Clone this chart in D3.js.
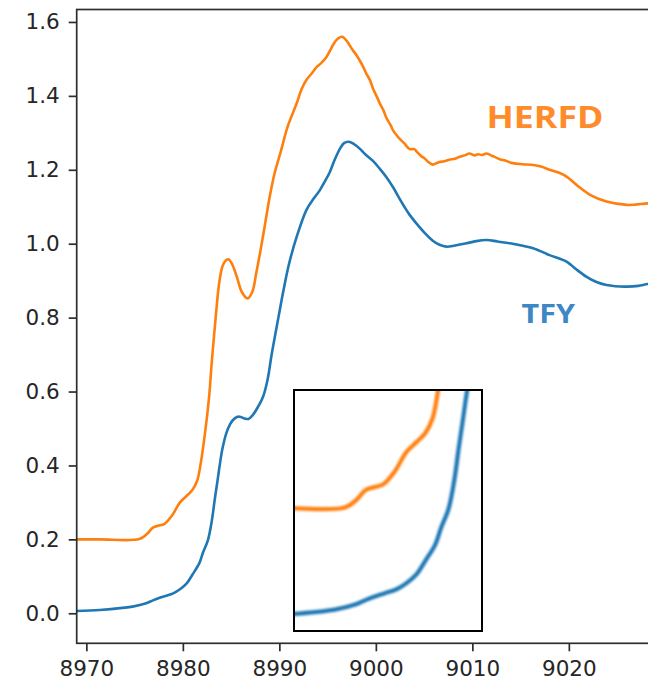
<!DOCTYPE html>
<html>
<head>
<meta charset="utf-8">
<script src="https://cdn.jsdelivr.net/npm/d3@7"></script>
<style>
  html, body { margin: 0; padding: 0; background: #fff; }
  svg { display: block; }
</style>
</head>
<body>
<svg id="chart" width="648" height="685"></svg>
<script>
// Fe K-edge spectra: energy (eV) and normalised intensity
const herfdEnergy = [8969.0, 8971.4, 8975.5, 8976.3, 8976.9, 8977.6, 8978.1, 8978.9, 8979.7, 8980.4,
  8981.0, 8981.5, 8981.8, 8982.3, 8982.7, 8983.0, 8983.4, 8983.8, 8984.2, 8984.7,
  8985.1, 8985.6, 8986.1, 8986.7, 8987.2, 8987.6, 8988.0, 8988.5, 8989.0, 8989.5,
  8990.1, 8990.9, 8991.8, 8992.3, 8992.8, 8993.4, 8993.9, 8994.3, 8994.9, 8995.4,
  8995.9, 8996.5, 8997.0, 8997.6, 8998.0, 8998.3, 8998.7, 8999.0, 8999.4, 8999.7,
  9000.1, 9000.4, 9000.8, 9001.1, 9001.5, 9001.8, 9002.2, 9002.5, 9003.0, 9003.5,
  9004.0, 9004.2, 9004.7, 9005.0, 9005.4, 9005.9, 9006.3, 9006.6, 9007.1, 9007.6,
  9008.2, 9008.7, 9009.2, 9009.7, 9010.2, 9010.6, 9011.0, 9011.5, 9012.0, 9012.3,
  9012.9, 9013.4, 9014.2, 9015.2, 9016.3, 9017.2, 9018.0, 9019.0, 9019.8, 9020.9,
  9022.2, 9023.9, 9026.0, 9028.2, 9030.0];
const herfdValue = [0.200, 0.200, 0.201, 0.215, 0.232, 0.238, 0.242, 0.265, 0.300, 0.318,
  0.334, 0.360, 0.397, 0.488, 0.580, 0.680, 0.800, 0.900, 0.945, 0.958,
  0.945, 0.910, 0.870, 0.852, 0.870, 0.920, 0.975, 1.050, 1.127, 1.190,
  1.245, 1.320, 1.380, 1.418, 1.443, 1.462, 1.479, 1.488, 1.506, 1.530,
  1.551, 1.560, 1.548, 1.524, 1.510, 1.497, 1.478, 1.461, 1.442, 1.420,
  1.398, 1.380, 1.360, 1.340, 1.322, 1.306, 1.292, 1.283, 1.270, 1.256,
  1.256, 1.250, 1.237, 1.232, 1.222, 1.214, 1.218, 1.221, 1.223, 1.227,
  1.230, 1.235, 1.239, 1.244, 1.239, 1.242, 1.240, 1.244, 1.238, 1.235,
  1.228, 1.225, 1.218, 1.215, 1.213, 1.208, 1.200, 1.192, 1.181, 1.157,
  1.132, 1.114, 1.105, 1.109, 1.112];

const tfyEnergy = [8969.0, 8971.4, 8974.8, 8976.2, 8976.9, 8977.6, 8978.2, 8979.0, 8979.7, 8980.4,
  8981.0, 8981.7, 8982.1, 8982.6, 8983.0, 8983.3, 8983.6, 8983.8, 8984.1, 8984.5,
  8984.9, 8985.2, 8985.6, 8985.9, 8986.3, 8986.8, 8987.2, 8987.6, 8988.3, 8988.8,
  8989.2, 8989.9, 8990.4, 8991.0, 8991.8, 8992.8, 8993.5, 8994.2,
  8994.7, 8995.2, 8995.7, 8996.3, 8996.7, 8997.2, 8997.7, 8998.3, 8998.9, 8999.7,
  9000.4, 9001.1, 9001.8, 9002.5, 9003.0, 9003.5, 9004.2, 9005.1, 9005.9, 9006.6,
  9007.3, 9008.2, 9009.4, 9010.4, 9011.5, 9012.6, 9013.9, 9015.1, 9016.3, 9018.0,
  9019.8, 9020.7, 9021.8, 9022.8, 9023.9, 9024.8, 9026.0, 9027.2, 9028.2, 9030.0];
const tfyValue = [0.006, 0.009, 0.018, 0.027, 0.035, 0.042, 0.047, 0.054, 0.065, 0.081,
  0.105, 0.135, 0.165, 0.198, 0.250, 0.307, 0.360, 0.397, 0.445, 0.487,
  0.512, 0.523, 0.531, 0.532, 0.528, 0.526, 0.535, 0.550, 0.585, 0.635,
  0.700, 0.800, 0.870, 0.945, 1.019, 1.091, 1.120, 1.145,
  1.168, 1.192, 1.225, 1.258, 1.272, 1.276, 1.270, 1.258, 1.242, 1.224,
  1.203, 1.180, 1.152, 1.120, 1.098, 1.078, 1.055, 1.028, 1.008, 0.997,
  0.992, 0.995, 1.001, 1.007, 1.010, 1.006, 1.001, 0.995, 0.988, 0.969,
  0.951, 0.932, 0.911, 0.897, 0.888, 0.885, 0.884, 0.886, 0.891, 0.895];

const xTicks = [8970, 8980, 8990, 9000, 9010, 9020];
const yTicks = [0.0, 0.2, 0.4, 0.6, 0.8, 1.0, 1.2, 1.4, 1.6];
const seriesLabels = ["HERFD", "TFY"];

const herfd = herfdEnergy.map((e, i) => [e, herfdValue[i]]);
const tfy = tfyEnergy.map((e, i) => [e, tfyValue[i]]);

const svg = d3.select("#chart");
const plot = { left: 76.7, top: 9.5, bottom: 643.3 };

const x = d3.scaleLinear().domain([8969, 9035]).range([plot.left, plot.left + 66 * 9.65]);
const y = d3.scaleLinear().domain([-0.0812, 1.6337]).range([plot.bottom, plot.top]);
const plotRight = x.range()[1];

const defs = svg.append("defs");
defs.append("clipPath").attr("id", "mainClip")
  .append("rect").attr("x", plot.left).attr("y", plot.top)
  .attr("width", plotRight - plot.left).attr("height", plot.bottom - plot.top);

const orange = "#ff7f0e", blue = "#1f77b4";

const line = d3.line().x(d => x(d[0])).y(d => y(d[1])).curve(d3.curveCatmullRom.alpha(0.5));

const g = svg.append("g").attr("clip-path", "url(#mainClip)");
g.append("path").datum(herfd).attr("d", line)
  .attr("fill", "none").attr("stroke", orange).attr("stroke-width", 2.6).attr("stroke-linejoin", "round");
g.append("path").datum(tfy).attr("d", line)
  .attr("fill", "none").attr("stroke", blue).attr("stroke-width", 2.6).attr("stroke-linejoin", "round");

// axes
const axisColor = "#2b2f2b";
const xAxis = svg.append("g").attr("transform", `translate(0,${plot.bottom})`)
  .call(d3.axisBottom(x).tickValues(xTicks).tickFormat(d3.format("d")).tickSize(8).tickPadding(9));
const yAxis = svg.append("g").attr("transform", `translate(${plot.left},0)`)
  .call(d3.axisLeft(y).tickValues(yTicks).tickFormat(d3.format(".1f")).tickSize(8).tickPadding(9));
[xAxis, yAxis].forEach(a => {
  a.select(".domain").remove();
  a.selectAll(".tick line").attr("stroke", axisColor).attr("stroke-width", 1.7);
  a.selectAll(".tick text").attr("fill", "#262626")
    .style("font-family", "'DejaVu Sans', sans-serif").style("font-size", "21.5px");
});

// frame
svg.append("rect").attr("x", plot.left).attr("y", plot.top)
  .attr("width", plotRight - plot.left).attr("height", plot.bottom - plot.top)
  .attr("fill", "none").attr("stroke", axisColor).attr("stroke-width", 1.7);

// inset: magnified pre-edge region
const inset = { left: 294, top: 390, right: 482, bottom: 631 };
const xi = d3.scaleLinear().domain([8972.0, 8984.9]).range([inset.left, inset.right]);
const yi = d3.scaleLinear().domain([-0.0204, 0.4115]).range([inset.bottom, inset.top]);
defs.append("clipPath").attr("id", "insetClip")
  .append("rect").attr("x", inset.left).attr("y", inset.top)
  .attr("width", inset.right - inset.left).attr("height", inset.bottom - inset.top);
defs.append("filter").attr("id", "soft").attr("x", "-10%").attr("y", "-10%")
  .attr("width", "120%").attr("height", "120%")
  .append("feGaussianBlur").attr("stdDeviation", 0.9);

svg.append("rect").attr("x", inset.left).attr("y", inset.top)
  .attr("width", inset.right - inset.left).attr("height", inset.bottom - inset.top)
  .attr("fill", "#fff");
const insetLine = d3.line().x(d => xi(d[0])).y(d => yi(d[1])).curve(d3.curveCatmullRom.alpha(0.5));
const gi = svg.append("g").attr("clip-path", "url(#insetClip)");
const gs = gi.append("g").attr("filter", "url(#soft)");
gs.append("path").datum(herfd).attr("d", insetLine)
  .attr("fill", "none").attr("stroke", orange).attr("stroke-width", 4.2);
gs.append("path").datum(tfy).attr("d", insetLine)
  .attr("fill", "none").attr("stroke", blue).attr("stroke-width", 4.2);
svg.append("rect").attr("x", inset.left).attr("y", inset.top)
  .attr("width", inset.right - inset.left).attr("height", inset.bottom - inset.top)
  .attr("fill", "none").attr("stroke", "#000").attr("stroke-width", 2);

// series labels
const labelFont = "'Open Sans', 'Liberation Sans', sans-serif";
svg.append("text").text(seriesLabels[0])
  .attr("x", 486.5).attr("y", 127.5)
  .attr("textLength", 117).attr("lengthAdjust", "spacingAndGlyphs")
  .attr("fill", "#ff8b2b").style("font-family", labelFont)
  .style("font-weight", "700").style("font-size", "31px");
svg.append("text").text(seriesLabels[1])
  .attr("x", 521.5).attr("y", 322.7)
  .attr("textLength", 53.5).attr("lengthAdjust", "spacingAndGlyphs")
  .attr("fill", "#3d87c4").style("font-family", labelFont)
  .style("font-weight", "700").style("font-size", "27.5px");
</script>
</body>
</html>
